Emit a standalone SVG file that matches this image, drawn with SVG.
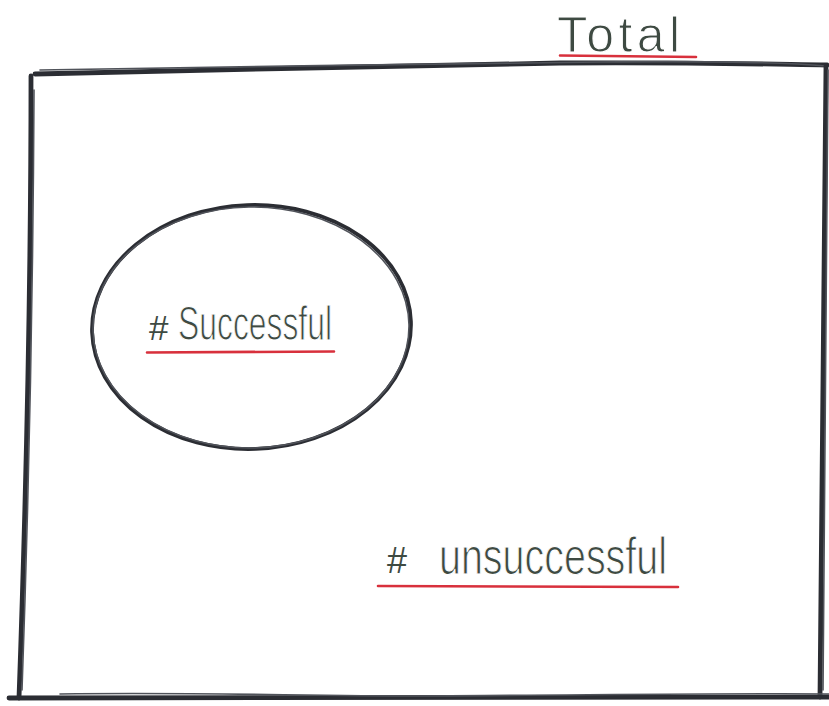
<svg xmlns="http://www.w3.org/2000/svg" width="829" height="706" viewBox="0 0 829 706">
<style>
.pen{fill:none;stroke:#2b2d33;stroke-linecap:round;stroke-linejoin:round}
.thick{stroke-width:4.8}
.thin{stroke-width:1.6;stroke:#50535a}
.hand{font-family:"Liberation Sans",Arial,sans-serif;fill:#3e4a42;stroke:#ffffff;stroke-width:1.1}
.hash{font-family:"Liberation Sans",Arial,sans-serif;fill:#3e4a42}
.red{fill:none;stroke:#d8303c;stroke-width:2.6;stroke-linecap:round}
</style>
<rect width="829" height="706" fill="#ffffff"/>
<g id="total">
<path class="pen thick" d="M35,74 C200,70 400,66 560,63 C680,62 760,64 827,65"/>
<path class="pen thin" d="M40,70 C220,67 420,64 600,62 C700,61 780,62 826,66"/>
<path class="pen thick" d="M31,76 C31,300 26,500 19,698"/>
<path class="pen thin" d="M34,90 C33,300 28,520 22,690"/>
<path class="pen thick" d="M826,66 C825,300 823,500 820,697"/>
<path class="pen thin" d="M828,70 C827,300 825,520 823,690"/>
<path class="pen thick" d="M9,698 C200,697 500,699 829,697"/>
<path class="pen thin" d="M60,694 C200,692 300,696 420,696 C600,695 740,693 829,694"/>
<text class="hand" x="557" y="52" font-size="50" textLength="123" lengthAdjust="spacing">Total</text>
<path class="red" d="M560,55.5 L696,57"/>
</g>
<g id="successful">
<ellipse class="pen" cx="251.5" cy="327" rx="159.5" ry="122" stroke-width="3.8" transform="rotate(-2 251 327)"/>
<ellipse class="pen thin" cx="251" cy="327.5" rx="158" ry="120.5" transform="rotate(-1 251 327)"/>
<text class="hash" x="149" y="340" font-size="35">#</text>
<text class="hand" x="178" y="340" font-size="48" textLength="154" lengthAdjust="spacingAndGlyphs">Successful</text>
<path class="red" d="M147,352.5 L334,351.5"/>
</g>
<g id="unsuccessful">
<text class="hash" x="387" y="573" font-size="36">#</text>
<text class="hand" x="439" y="574" font-size="52" textLength="228" lengthAdjust="spacingAndGlyphs">unsuccessful</text>
<path class="red" d="M378,586 L678,587"/>
</g>
</svg>
